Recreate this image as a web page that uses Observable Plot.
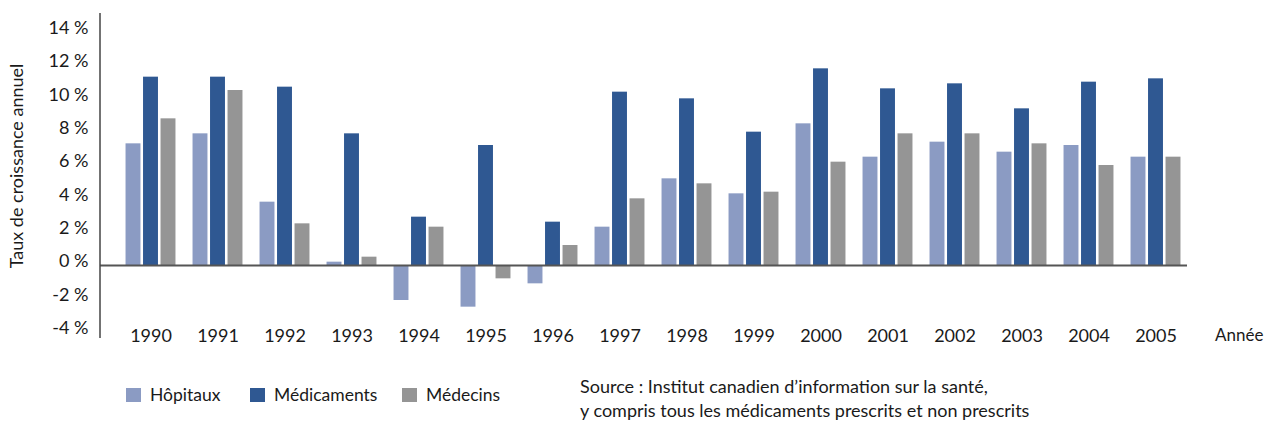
<!DOCTYPE html>
<html>
<head>
<meta charset="utf-8">
<script src="https://cdn.jsdelivr.net/npm/d3@7"></script>
<script src="https://cdn.jsdelivr.net/npm/@observablehq/plot@0.6"></script>
<style>
  html, body { margin: 0; padding: 0; background: #fff; }
  body { font-family: Lato, "Noto Sans", sans-serif; color: #1a1a1a; }
  #wrap { position: relative; width: 1266px; height: 424px; }
  #legend { position: absolute; left: 126px; top: 384px; font-size: 17.5px; display: flex; align-items: center; }
  .item { display: flex; align-items: center; }
  .sw { width: 15px; height: 14px; margin-right: 9px; }
  #source { position: absolute; left: 580px; top: 374px; font-size: 18px; line-height: 24px; }
</style>
</head>
<body>
<div id="wrap">
  <div id="chart"></div>
  <div id="legend"></div>
  <div id="source">Source : Institut canadien d’information sur la santé,<br>y compris tous les médicaments prescrits et non prescrits</div>
</div>
<script>
const years = ["1990","1991","1992","1993","1994","1995","1996","1997","1998","1999","2000","2001","2002","2003","2004","2005"];
const series = ["Hôpitaux", "Médicaments", "Médecins"];
const colors = ["#8b9bc3", "#2f5892", "#959595"];
const hopitaux    = [7.3, 7.9, 3.8, 0.2, -2.1, -2.5, -1.1, 2.3, 5.2, 4.3, 8.5, 6.5, 7.4, 6.8, 7.2, 6.5];
const medicaments = [11.3, 11.3, 10.7, 7.9, 2.9, 7.2, 2.6, 10.4, 10.0, 8.0, 11.8, 10.6, 10.9, 9.4, 11.0, 11.2];
const medecins    = [8.8, 10.5, 2.5, 0.5, 2.3, -0.8, 1.2, 4.0, 4.9, 4.4, 6.2, 7.9, 7.9, 7.3, 6.0, 6.5];
const yTicks = [-4, -2, 0, 2, 4, 6, 8, 10, 12, 14];
const yLabel = "Taux de croissance annuel";
const xLabel = "Année";

const values = [hopitaux, medicaments, medecins];
const rows = (k) => years.map((y, i) => ({year: y, value: values[k][i], series: series[k]}));

const W = 1266, H = 360;
const mL = 100, mR = 79, mT = 13, mB = 22;
const barW = 15, shift = 17.5;
const xRange = [116, 1189.1];

const axisLine = (index, scales, vals, dims) => {
  const l = document.createElementNS("http://www.w3.org/2000/svg", "line");
  l.setAttribute("x1", dims.marginLeft);
  l.setAttribute("x2", dims.marginLeft);
  l.setAttribute("y1", dims.marginTop);
  l.setAttribute("y2", dims.height - dims.marginBottom);
  l.setAttribute("stroke", "#444");
  l.setAttribute("stroke-width", 1.5);
  return l;
};

const step = (xRange[1] - xRange[0]) / years.length;
const inset = (step - barW) / 2;

const chart = Plot.plot({
  width: W, height: H,
  marginLeft: mL, marginRight: mR, marginTop: mT, marginBottom: mB,
  style: {fontFamily: "Lato, 'Noto Sans', sans-serif", fontSize: "18px", color: "#1a1a1a", background: "#fff", overflow: "visible"},
  x: {type: "band", domain: years, range: xRange, padding: 0, label: null},
  y: {domain: [-4.38, 15.12], label: null},
  marks: [
    ...[0,1,2].map(k => Plot.barY(rows(k), {x: "year", y: "value", fill: colors[k], dx: (k - 1) * shift, insetLeft: inset, insetRight: inset})),
    Plot.ruleY([0], {stroke: "#555", strokeWidth: 2}),
    axisLine,
    Plot.axisY({ticks: yTicks, tickSize: 0, tickPadding: 12, dy: -4, tickFormat: d => `${d} %`, label: null, fontSize: 18}),
    Plot.axisX({tickSize: 0, tickPadding: 0, dy: -9, label: null, fontSize: 18}),
    Plot.text([yLabel], {frameAnchor: "left", textAnchor: "middle", rotate: -90, dx: -83, dy: -10, fontSize: 18, fill: "#1a1a1a"}),
    Plot.text([xLabel], {frameAnchor: "bottom-right", textAnchor: "end", lineAnchor: "middle", dx: 76, dy: -3, fontSize: 17, fill: "#1a1a1a"})
  ]
});
document.getElementById("chart").appendChild(chart);

const legend = document.getElementById("legend");
const widths = [124, 152, 120];
series.forEach((s, k) => {
  const it = document.createElement("div");
  it.className = "item";
  it.style.width = widths[k] + "px";
  const sw = document.createElement("div");
  sw.className = "sw";
  sw.style.background = colors[k];
  const t = document.createElement("span");
  t.textContent = s;
  it.appendChild(sw); it.appendChild(t);
  legend.appendChild(it);
});
</script>
</body>
</html>
